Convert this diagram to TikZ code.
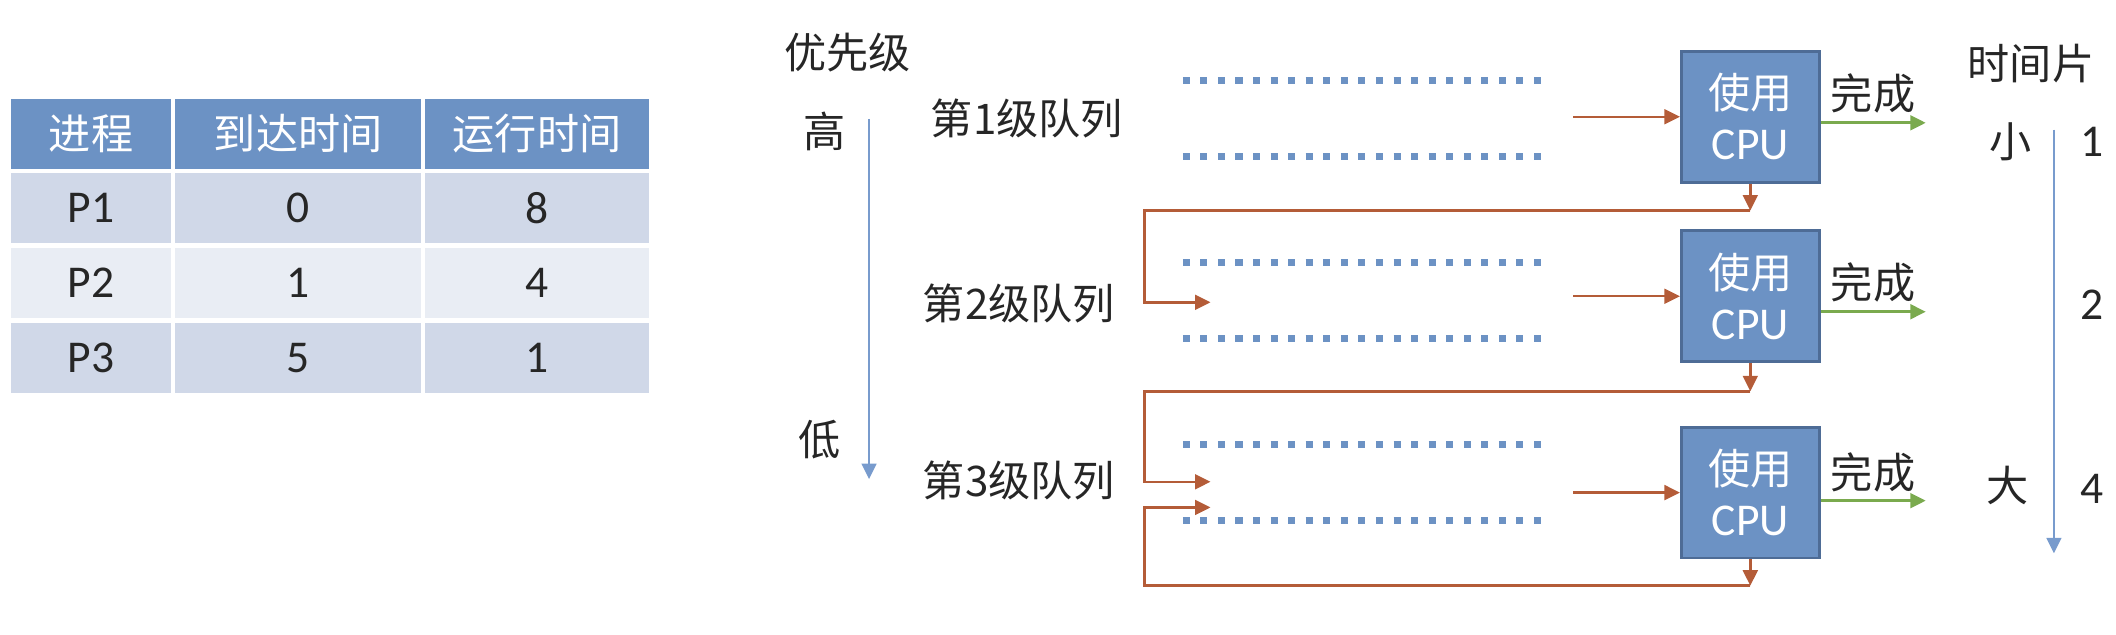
\documentclass[tikz,border=0pt]{standalone}
\usepackage{fontspec}
\setmainfont{Noto Sans CJK SC}
\newfontfamily\lat{Carlito}[Scale=1.08]
\usetikzlibrary{arrows.meta,calc,positioning}
\definecolor{blau}{RGB}{108,146,196}
\definecolor{blaurand}{RGB}{78,108,150}
\definecolor{braun}{RGB}{180,92,56}
\definecolor{gruen}{RGB}{122,170,78}
\definecolor{zeilea}{RGB}{208,216,232}
\definecolor{zeileb}{RGB}{233,237,244}
\definecolor{pfeil}{RGB}{120,155,205}
\tikzset{
    >={Triangle[length=4.4pt,width=4.2pt]},
    head/.style={
           fill=blau,
           text=white,
           minimum height=0.70cm,
           inner sep=0pt},
    rowa/.style={
           fill=zeilea,
           text=black!85,
           minimum height=0.70cm,
           inner sep=0pt},
    rowb/.style={
           rowa,
           fill=zeileb},
    cpu/.style={
           rectangle,
           fill=blau,
           draw=blaurand, thick,
           text=white,
           minimum width=1.38cm,
           minimum height=1.31cm,
           inner sep=0pt,
           align=center},
    queue/.style={
           minimum width=3.66cm,
           minimum height=0.75cm,
           inner sep=0pt},
    dots/.style={
           draw=blau,
           line width=2pt,
           dash pattern=on 2pt off 3pt},
    flow/.style={
           ->,
           draw=braun,
           line width=0.7pt},
    done/.style={
           ->,
           draw=gruen,
           line width=0.8pt},
    prio/.style={
           ->,
           draw=pfeil,
           line width=0.6pt}
}
\begin{document}
\begin{tikzpicture}[x=0.0135cm, y=-0.0135cm, text=black!85,
        font=\fontsize{12}{14.5}\selectfont]
        \useasboundingbox (0,0) rectangle (1568,470);

        % table
        \node[head, minimum width=1.60cm] (h1) at (67.5,99) {进程};
        \node[head, minimum width=2.46cm] (h2) at (221,99) {到达时间};
        \node[head, minimum width=2.24cm] (h3) at (398,99) {运行时间};
        \node[rowa, minimum width=1.60cm] (a1) at (67.5,154) {\lat P1};
        \node[rowa, minimum width=2.46cm] (a2) at (221,154) {\lat 0};
        \node[rowa, minimum width=2.24cm] (a3) at (398,154) {\lat 8};
        \node[rowb, minimum width=1.60cm] (b1) at (67.5,209.5) {\lat P2};
        \node[rowb, minimum width=2.46cm] (b2) at (221,209.5) {\lat 1};
        \node[rowb, minimum width=2.24cm] (b3) at (398,209.5) {\lat 4};
        \node[rowa, minimum width=1.60cm] (c1) at (67.5,265) {\lat P3};
        \node[rowa, minimum width=2.46cm] (c2) at (221,265) {\lat 5};
        \node[rowa, minimum width=2.24cm] (c3) at (398,265) {\lat 1};

        % priority
        \node (prio) at (628,39) {优先级};
        \node (hi) at (611,97) {高};
        \node (lo) at (607,326) {低};
        \coordinate (p0) at (644,88);
        \coordinate (p1) at (644,355);
        \draw[prio] (p0) -- (p1);

        % queues
        \node (l1) at (761,88) {第1级队列};
        \node (l2) at (755,225) {第2级队列};
        \node (l3) at (755,356) {第3级队列};
        \node[queue] (q1) at (1012.5,88) {};
        \node[queue] (q2) at (1012.5,222.5) {};
        \node[queue] (q3) at (1012.5,357.5) {};
        \foreach \q in {q1,q2,q3} {
            \draw[dots] (\q.north west) -- (\q.north east);
            \draw[dots] (\q.south west) -- (\q.south east);
        }

        % cpu
        \node[cpu] (cpu1) at (1297,86.5) {使用\\{\lat CPU}};
        \node[cpu] (cpu2) at (1297,219.5) {使用\\{\lat CPU}};
        \node[cpu] (cpu3) at (1297,365) {使用\\{\lat CPU}};
        \coordinate[left=1.07cm of cpu1.west] (e1);
        \coordinate[left=1.07cm of cpu2.west] (e2);
        \coordinate[left=1.07cm of cpu3.west] (e3);
        \draw[flow] (e1) -- (cpu1.west);
        \draw[flow] (e2) -- (cpu2.west);
        \draw[flow] (e3) -- (cpu3.west);

        % finished
        \node (f1) at (1388,69) {完成};
        \node (f2) at (1388,209) {完成};
        \node (f3) at (1388,350) {完成};
        \coordinate (d1) at (1427,91);
        \coordinate (d2) at (1427,231);
        \coordinate (d3) at (1427,371);
        \draw[done] (d1 -| cpu1.east) -- (d1);
        \draw[done] (d2 -| cpu2.east) -- (d2);
        \draw[done] (d3 -| cpu3.east) -- (d3);

        % back to the next queue
        \coordinate (j1) at (1297,156);
        \coordinate (j2) at (1297,290);
        \coordinate (j3) at (1297,434);
        \coordinate (k1) at (848,156);
        \coordinate (k2) at (848,290);
        \coordinate (k3) at (848,434);
        \coordinate (r1) at (897,224);
        \coordinate (r2) at (897,357);
        \coordinate (r3) at (897,376);
        \draw[flow] (cpu1.south) -- (j1);
        \draw[flow] (cpu2.south) -- (j2);
        \draw[flow] (cpu3.south) -- (j3);
        \draw[flow] (j1) -- (k1) |- (r1);
        \draw[flow] (j2) -- (k2) |- (r2);
        \draw[flow] (j3) -- (k3) |- (r3);

        % time slice
        \node (ts) at (1505,47) {时间片};
        \node (small) at (1490,105) {小};
        \node (big) at (1488,360) {大};
        \node (t1) at (1550,105) {\lat 1};
        \node (t2) at (1550,226) {\lat 2};
        \node (t4) at (1550,362) {\lat 4};
        \coordinate (s0) at (1522,96);
        \coordinate (s1) at (1522,410);
        \draw[prio] (s0) -- (s1);
\end{tikzpicture}
\end{document}
